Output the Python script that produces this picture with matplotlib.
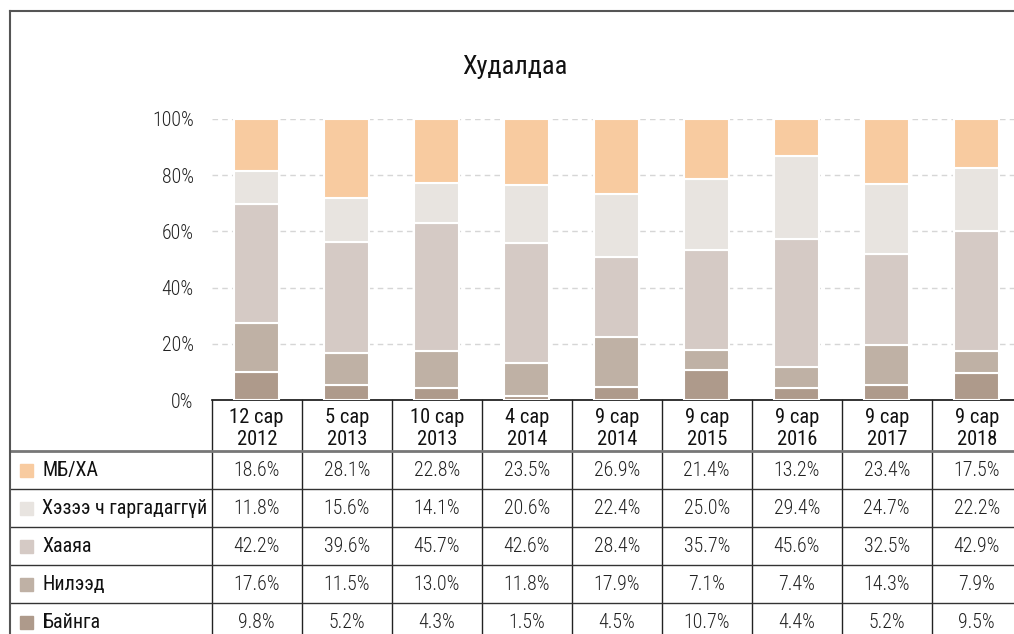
import numpy as np
import matplotlib
matplotlib.use("Agg")
import matplotlib.pyplot as plt
from matplotlib import font_manager

# pick a narrow sans if one is installed
names = {f.name for f in font_manager.fontManager.ttflist}
family = "DejaVu Sans"
for cand in ["Roboto Condensed", "Liberation Sans Narrow", "Open Sans Condensed", "DejaVu Sans Condensed"]:
    if cand in names:
        family = cand
        break
plt.rcParams["font.family"] = [family, "DejaVu Sans"]

periods = ["12 сар\n2012", "5 сар\n2013", "10 сар\n2013", "4 сар\n2014", "9 сар\n2014",
           "9 сар\n2015", "9 сар\n2016", "9 сар\n2017", "9 сар\n2018"]
series = ["МБ/ХА", "Хэзээ ч гаргадаггүй", "Хааяа", "Нилээд", "Байнга"]
mb_ha = [18.6, 28.1, 22.8, 23.5, 26.9, 21.4, 13.2, 23.4, 17.5]
never = [11.8, 15.6, 14.1, 20.6, 22.4, 25.0, 29.4, 24.7, 22.2]
sometimes = [42.2, 39.6, 45.7, 42.6, 28.4, 35.7, 45.6, 32.5, 42.9]
often = [17.6, 11.5, 13.0, 11.8, 17.9, 7.1, 7.4, 14.3, 7.9]
always = [9.8, 5.2, 4.3, 1.5, 4.5, 10.7, 4.4, 5.2, 9.5]
colors = ["#F8CBA0", "#E8E4E0", "#D5CAC5", "#BFB1A5", "#AE9A8B"]

rows = [mb_ha, never, sometimes, often, always]

W, H = 1014, 634
AX_BOTTOM = 400  # pixel row of the 0% line
fig = plt.figure(figsize=(W / 100, H / 100), dpi=100)

# frame around the whole chart (left and top visible)
fig.add_artist(plt.Line2D([10 / W, 10 / W], [0, 1 - 11 / H], color="#555555", lw=1.5))
fig.add_artist(plt.Line2D([10 / W, 1], [1 - 11 / H, 1 - 11 / H], color="#555555", lw=1.5))

fig.text(515 / W, 1 - 67 / H, "Худалдаа", ha="center", va="center", fontsize=19, color="#111111")

left = 211.7 / W
width = (W - 211.7) / W
ncols = (W - 211.7) / 90.0
ax = fig.add_axes([left, 1 - AX_BOTTOM / H, width, 281 / H])
ax.patch.set_alpha(0)
x = np.arange(len(periods))
bottom = np.zeros(len(periods))
# stack from the bottom series upward
for vals, c in zip(rows[::-1], colors[::-1]):
    v = np.array(vals) / 100
    ax.bar(x, v, width=0.5, bottom=bottom, color=c, edgecolor="white", linewidth=1.5, zorder=3)
    bottom += v
ax.set_xlim(-0.5, -0.5 + ncols)
ax.set_ylim(0, 1)
ticks = np.arange(0, 1.01, 0.2)
ax.set_yticks(ticks)
ax.set_yticklabels([f"{int(round(t * 100))}%" for t in ticks], fontsize=14.3,
                   color="#222222", fontweight="light")
ax.tick_params(axis="y", length=0, pad=13)
ax.set_xticks([])
for s in ["top", "right", "left"]:
    ax.spines[s].set_visible(False)
ax.spines["bottom"].set_color("#111111")
ax.spines["bottom"].set_linewidth(1.2)
for t in ticks[1:]:
    ax.axhline(t, color="#D6D6D6", lw=1, ls=(0, (4, 3)), zorder=1)

# data table below the bars, y measured downward in pixels from the axis line
tab_h = H - AX_BOTTOM
tax = fig.add_axes([left, 0, width, tab_h / H], sharex=ax)
tax.set_ylim(tab_h, 0)
tax.axis("off")
label_x = -0.5 - (211.7 - 10) / 90.0
header_h = 51
row_h = 37.9
for k in range(len(periods) + 1):
    tax.plot([-0.5 + k, -0.5 + k], [0, tab_h + 10], color="#222222", lw=1, clip_on=False)
for i, p in enumerate(periods):
    tax.text(i, header_h / 2 + 3, p, ha="center", va="center", fontsize=14.8,
             color="#111111", fontweight="normal", linespacing=1.15)
tax.plot([label_x, -0.5 + ncols], [header_h, header_h], color="#777777", lw=2, clip_on=False)
for r, (name, vals, c) in enumerate(zip(series, rows, colors)):
    y0 = header_h + r * row_h
    yc = y0 + row_h / 2 + 1
    if r > 0:
        tax.plot([label_x, -0.5 + ncols], [y0, y0], color="#333333", lw=1, clip_on=False)
    tax.add_patch(plt.Rectangle((label_x + 10 / 90, yc - 6.5), 13 / 90, 13, color=c, clip_on=False))
    tax.text(label_x + 32 / 90, yc, name, ha="left", va="center", fontsize=14.4,
             color="#111111", fontweight="normal", clip_on=False)
    for i, v in enumerate(vals):
        tax.text(i, yc, f"{v:.1f}%", ha="center", va="center", fontsize=14.3,
                 color="#222222", fontweight="light")

fig.savefig("out.png", dpi=100)
